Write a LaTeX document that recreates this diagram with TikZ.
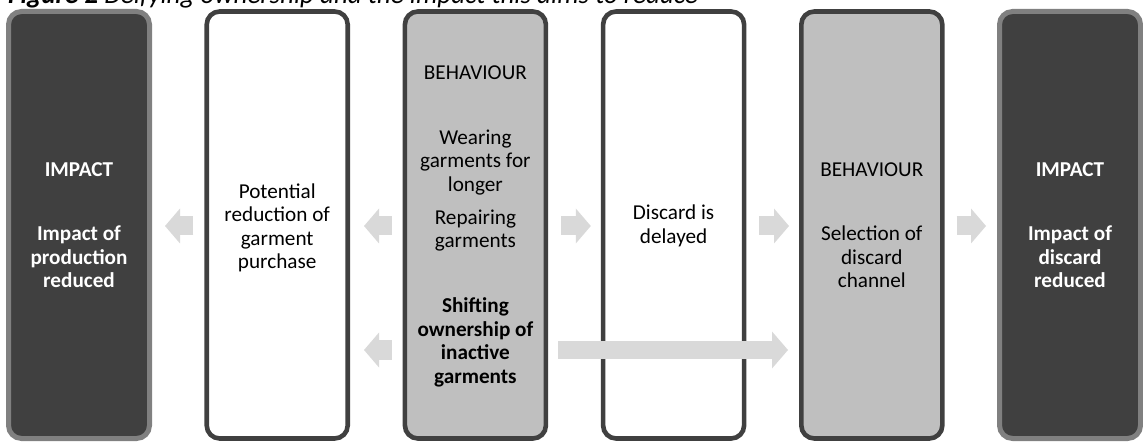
\documentclass[tikz,border=0pt]{standalone}
\usepackage{fontspec}
\setmainfont{Carlito}
\usetikzlibrary{arrows.meta}
\definecolor{darkfill}{HTML}{404040}
\definecolor{darkrim}{HTML}{808080}
\definecolor{midfill}{HTML}{BFBFBF}
\definecolor{rimgray}{HTML}{404040}
\definecolor{arrowgray}{HTML}{D9D9D9}
\begin{document}
\begin{tikzpicture}[x=1pt,y=1pt,
  basebox/.style={rectangle, rounded corners=13pt, minimum width=141pt, minimum height=427pt, inner sep=0pt},
  impactbox/.style={basebox, fill=darkfill, draw=darkrim, line width=5pt, minimum width=141pt, minimum height=427pt},
  plainbox/.style={basebox, fill=white, draw=rimgray, line width=4.6pt},
  behavbox/.style={basebox, fill=midfill, draw=rimgray, line width=4.6pt},
  txt/.style={align=center, inner sep=0pt, font=\fontsize{21.2}{23.5}\selectfont, text=black},
  whitetxt/.style={txt, text=white, font=\fontsize{21.2}{23.5}\selectfont\bfseries},
  boldtxt/.style={txt, font=\fontsize{21.2}{23.5}\selectfont\bfseries},
  blockarr/.style={draw=arrowgray, line width=19pt, -{Triangle[length=15pt,width=35pt,line width=0pt]}},
  longarr/.style={draw=arrowgray, line width=17pt, -{Triangle[length=16pt,width=37pt,line width=0pt]}}
]
\useasboundingbox (0,0) rectangle (1143,442);
% title (cropped at the top)
\node[anchor=base west, inner sep=0pt, font=\fontsize{27}{31}\selectfont\itshape] (title) at (8,438) {\textbf{Figure 2} Deifying ownership and the impact this aims to reduce};
% boxes
\node[impactbox] (b1) at (79,217) {};
\node[plainbox]  (b2) at (277.2,217) {};
\node[behavbox]  (b3) at (475.4,217) {};
\node[plainbox]  (b4) at (673.6,217) {};
\node[behavbox]  (b5) at (871.8,217) {};
\node[impactbox] (b6) at (1070,217) {};
% texts
\node[whitetxt] (t1a) at (79,272) {IMPACT};
\node[whitetxt] (t1b) at (79,185) {Impact of\\production\\reduced};
\node[txt] (t2) at (277.2,214) {Potential\\reduction of\\garment\\purchase};
\node[txt] (t3a) at (475.4,369) {BEHAVIOUR};
\node[txt] (t3b) at (475.4,279.5) {Wearing\\garments for\\longer};
\node[txt] (t3c) at (475.4,211.5) {Repairing\\garments};
\node[boldtxt] (t3d) at (475.4,99.5) {Shifting\\ownership of\\inactive\\garments};
\node[txt] (t4) at (673.6,216) {Discard is\\delayed};
\node[txt] (t5a) at (871.8,272) {BEHAVIOUR};
\node[txt] (t5b) at (871.8,185) {Selection of\\discard\\channel};
\node[whitetxt] (t6a) at (1070,272) {IMPACT};
\node[whitetxt] (t6b) at (1070,185) {Impact of\\discard\\reduced};
% arrows
\coordinate (up) at (0,216);
\coordinate (low) at (0,92);
\draw[blockarr, shorten <=11pt, shorten >=13pt] (b2.west |- up) -- (b1.east |- up);
\draw[blockarr, shorten <=11pt, shorten >=14pt] (b3.west |- up) -- (b2.east |- up);
\draw[blockarr, shorten <=11pt, shorten >=14pt] (b3.west |- low) -- (b2.east |- low);
\draw[blockarr, shorten <=13pt, shorten >=10pt] (b3.east |- up) -- (b4.west |- up);
\draw[blockarr, shorten <=13pt, shorten >=10pt] (b4.east |- up) -- (b5.west |- up);
\draw[blockarr, shorten <=12pt, shorten >=11pt] (b5.east |- up) -- (b6.west |- up);
\draw[longarr, shorten <=10pt, shorten >=11pt] (b3.east |- low) -- (b5.west |- low);
\end{tikzpicture}
\end{document}
